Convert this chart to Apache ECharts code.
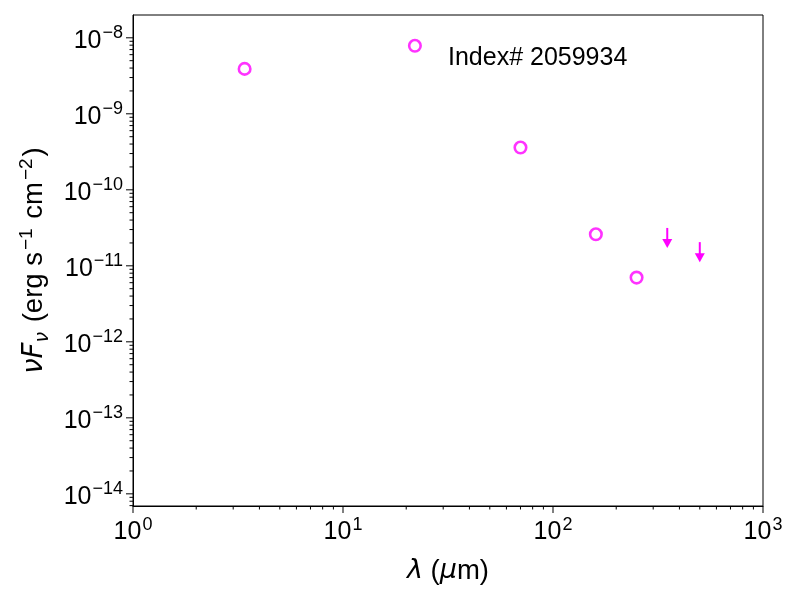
<!DOCTYPE html>
<html lang="en">
<head>
  <meta charset="UTF-8">
  <title>SED</title>
  <style>
    html, body { margin: 0; padding: 0; background: #fff; }
    #chart { width: 800px; height: 600px; }
  </style>
</head>
<body>
  <div id="chart"></div>
  <script src="https://cdn.jsdelivr.net/npm/echarts@6/dist/echarts.min.js"></script>
  <script>
    // detected fluxes (wavelength in micron, nuFnu in erg/s/cm2)
    var wavelengths = [3.4, 22, 70, 160, 250]
    var fluxes = [3.9e-9, 7.85e-9, 3.6e-10, 2.6e-11, 7.0e-12]
    // upper limits
    var limitWavelengths = [350, 500]
    var limitFluxes = [3.15e-11, 2.05e-11]
    var labelText = 'Index# 2059934'

    var xMin = 1, xMax = 1000
    var yMin = Math.pow(10, -14.16), yMax = Math.pow(10, -7.7)
    var magenta = '#ff00ff'
    var font = 'Liberation Sans'

    // tick positions for the log axes (decades + 2..9 minors)
    var xMajor = [1, 10, 100, 1000]
    var yMajor = [1e-14, 1e-13, 1e-12, 1e-11, 1e-10, 1e-9, 1e-8]
    var minorSteps = [2, 3, 4, 5, 6, 7, 8, 9]

    function minorsBetween(lo, hi) {
      var out = []
      for (var e = Math.floor(Math.log10(lo)); e <= Math.ceil(Math.log10(hi)); e++) {
        minorSteps.forEach(function (k) {
          var v = k * Math.pow(10, e)
          if (v > lo && v < hi) out.push(v)
        })
      }
      return out
    }
    var xMinor = minorsBetween(xMin, xMax)
    var yMinor = minorsBetween(yMin, yMax)

    var tickData = []
    xMajor.forEach(function (v) { tickData.push(['x', v, 7]) })
    xMinor.forEach(function (v) { tickData.push(['x', v, 3.5]) })
    yMajor.forEach(function (v) { tickData.push(['y', v, 7]) })
    yMinor.forEach(function (v) { tickData.push(['y', v, 3.5]) })

    function powLabel(v) {
      var e = Math.log10(v)
      if (Math.abs(e - Math.round(e)) > 1e-6) return ''
      e = Math.round(e)
      return '{b|10}{s|' + (e < 0 ? '\u2212' + (-e) : e) + '}'
    }
    var labelRich = {
      b: { fontSize: 25, fontFamily: font, color: '#000', verticalAlign: 'bottom', lineHeight: 31 },
      s: { fontSize: 18, fontFamily: font, color: '#000', verticalAlign: 'bottom', lineHeight: 31, padding: [0, 0, 11, 1] }
    }

    var chart = echarts.init(document.getElementById('chart'))
    var option = {
      animation: false,
      grid: { left: 133, right: 37, top: 15, bottom: 94, show: true, borderColor: '#000', borderWidth: 1 },
      xAxis: {
        type: 'log', logBase: 10, min: xMin, max: xMax,
        splitLine: { show: false },
        axisLine: { lineStyle: { color: '#000', width: 1 } },
        axisTick: { show: false },
        axisLabel: { margin: 8, formatter: powLabel, rich: labelRich },
        name: '{i|\u03bb}{n| (}{i|\u03bc}{n|m)}',
        nameLocation: 'middle', nameGap: 51,
        nameTextStyle: {
          rich: {
            i: { fontSize: 27, fontFamily: 'DejaVu Sans', fontStyle: 'italic', color: '#000' },
            n: { fontSize: 27.5, fontFamily: font, color: '#000' }
          }
        }
      },
      yAxis: {
        type: 'log', logBase: 10, min: yMin, max: yMax,
        splitLine: { show: false },
        axisLine: { lineStyle: { color: '#000', width: 1 } },
        axisTick: { show: false },
        axisLabel: { margin: 10, formatter: powLabel, rich: labelRich },
        name: '{i|\u03bdF}{sub|\u03bd}{n| (erg s}{sup|\u22121}{n| cm}{sup|\u22122}{n|)}',
        nameLocation: 'middle', nameRotate: 90, nameGap: 80,
        nameTextStyle: {
          rich: {
            i: { fontSize: 27.5, fontFamily: 'DejaVu Sans', fontStyle: 'italic', color: '#000', verticalAlign: 'bottom', lineHeight: 34 },
            sub: { fontSize: 19, fontFamily: 'DejaVu Sans', fontStyle: 'italic', color: '#000', verticalAlign: 'bottom', lineHeight: 34, padding: [0, 2, -4, 0] },
            n: { fontSize: 27.5, fontFamily: font, color: '#000', verticalAlign: 'bottom', lineHeight: 34 },
            sup: { fontSize: 19, fontFamily: font, color: '#000', verticalAlign: 'bottom', lineHeight: 34, padding: [0, 2, 12, 2] }
          }
        }
      },
      graphic: [{
        type: 'text', left: 448, top: 46,
        style: { text: labelText, fontSize: 25, fontFamily: font, fill: '#000' }
      }],
      series: [
        {
          type: 'scatter',
          data: wavelengths.map(function (w, i) { return [w, fluxes[i]] }),
          symbol: 'circle', symbolSize: 11.5,
          itemStyle: { color: '#fff', borderColor: magenta, borderWidth: 2.6 },
          z: 5
        },
        {
          type: 'custom',
          data: limitWavelengths.map(function (w, i) { return [w, limitFluxes[i]] }),
          renderItem: function (params, api) {
            var p = api.coord([api.value(0), api.value(1)])
            return {
              type: 'group',
              children: [
                { type: 'line', shape: { x1: p[0], y1: p[1], x2: p[0], y2: p[1] + 12 },
                  style: { stroke: magenta, lineWidth: 2 } },
                { type: 'polygon', shape: { points: [[p[0] - 5, p[1] + 11], [p[0] + 5, p[1] + 11], [p[0], p[1] + 20]] },
                  style: { fill: magenta } }
              ]
            }
          },
          z: 5
        },
        {
          // axis tick marks, drawn through the axis scales
          type: 'custom',
          clip: false,
          silent: true,
          data: tickData.map(function (t) { return [t[0] === 'x' ? 0 : 1, t[1], t[2]] }),
          renderItem: function (params, api) {
            var isY = api.value(0) === 1
            var v = api.value(1), len = api.value(2)
            var p = isY ? api.coord([xMin, v]) : api.coord([v, yMin])
            var shape = isY
              ? { x1: p[0], y1: p[1], x2: p[0] - len, y2: p[1] }
              : { x1: p[0], y1: p[1], x2: p[0], y2: p[1] + len }
            return { type: 'line', shape: shape, style: { stroke: '#000', lineWidth: 1 } }
          },
          encode: { x: -1, y: -1 }
        }
      ]
    }
    chart.setOption(option)
  </script>
</body>
</html>
